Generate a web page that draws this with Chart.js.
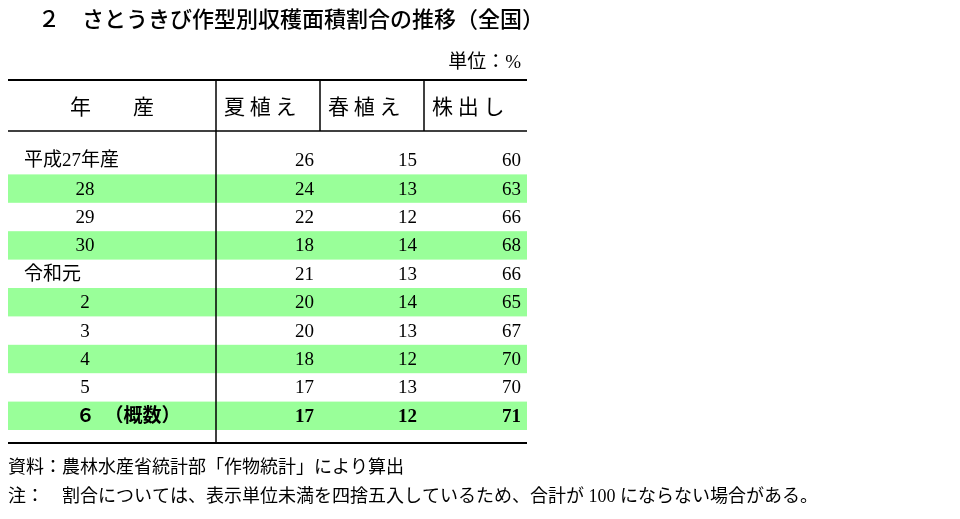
<!DOCTYPE html>
<html><head><meta charset="utf-8">
<script src="https://cdn.jsdelivr.net/npm/chart.js@4"></script>
<style>html,body{margin:0;padding:0;background:#fff}#w{width:960px;height:519px}</style>
</head><body><div id="w"><canvas id="c"></canvas></div>
<script>
const title = "２　さとうきび作型別収穫面積割合の推移（全国）";
const unit = "単位：%";
const headers = ["年　　産", "夏 植 え", "春 植 え", "株 出 し"];
const years = ["平成27年産", "28", "29", "30", "令和元", "2", "3", "4", "5", "６　（概数）"];
const summer = [26, 24, 22, 18, 21, 20, 20, 18, 17, 17];
const spring = [15, 13, 12, 14, 13, 14, 13, 12, 13, 12];
const ratoon = [60, 63, 66, 68, 66, 65, 67, 70, 70, 71];
const notes = ["資料：農林水産省統計部「作物統計」により算出",
  "注：　割合については、表示単位未満を四捨五入しているため、合計が 100 にならない場合がある。"];

const FONT = '"Liberation Serif","Noto Sans CJK JP",serif';
const tablePlugin = {
  id: 'table',
  afterDraw(chart) {
    const ctx = chart.ctx, X = chart.scales.x, Y = chart.scales.y;
    const px = v => X.getPixelForValue(v), py = v => Y.getPixelForValue(v);
    ctx.save();
    ctx.fillStyle = '#000'; ctx.textBaseline = 'middle';
    ctx.font = '500 22px "Noto Sans CJK JP"'; ctx.textAlign = 'left';
    ctx.fillText(title, px(38), py(19));
    ctx.font = '19px ' + FONT; ctx.textAlign = 'right';
    ctx.fillText(unit, px(521), py(63));
    const L = px(8), R = px(527), top = py(80), hb = py(131), bot = py(443);
    const rowH = 28.4, r0 = 146;
    ctx.fillStyle = '#99ff99';
    years.forEach((y, i) => { if (i % 2 === 1) ctx.fillRect(L, py(r0 + i * rowH), R - L, rowH); });
    ctx.strokeStyle = '#000';
    const line = (x1, y1, x2, y2, w) => { ctx.lineWidth = w; ctx.beginPath(); ctx.moveTo(x1, y1); ctx.lineTo(x2, y2); ctx.stroke(); };
    line(L, top, R, top, 2); line(L, hb, R, hb, 1.5); line(L, bot, R, bot, 2);
    line(px(216), top, px(216), bot, 1.5);
    line(px(320), top, px(320), hb, 1.5); line(px(424), top, px(424), hb, 1.5);
    ctx.fillStyle = '#000'; ctx.font = '21px "Noto Sans CJK JP"';
    ctx.textAlign = 'center'; ctx.fillText(headers[0], px(112), py(106));
    ctx.textAlign = 'left';
    ctx.fillText(headers[1], px(224), py(106)); ctx.fillText(headers[2], px(328), py(106)); ctx.fillText(headers[3], px(432), py(106));
    years.forEach((y, i) => {
      const cy = py(r0 + i * rowH + rowH / 2 + 1);
      const last = i === years.length - 1;
      ctx.font = (last ? 'bold ' : '') + '19px ' + FONT;
      if (i === 0 || y === "令和元") { ctx.textAlign = 'left'; ctx.fillText(y, px(24), cy); }
      else if (last) { ctx.textAlign = 'left'; ctx.fillText(y, px(76), cy); }
      else { ctx.textAlign = 'center'; ctx.fillText(y, px(85), cy); }
      ctx.textAlign = 'right';
      ctx.fillText(summer[i], px(314), cy); ctx.fillText(spring[i], px(417), cy); ctx.fillText(ratoon[i], px(521), cy);
    });
    ctx.textAlign = 'left'; ctx.font = '18px ' + FONT;
    ctx.fillText(notes[0], px(8), py(468)); ctx.fillText(notes[1], px(8), py(497));
    ctx.restore();
  }
};
new Chart(document.getElementById('c'), {
  type: 'scatter',
  data: { datasets: [] },
  options: {
    responsive: true, maintainAspectRatio: false, animation: false,
    layout: { padding: 0 },
    plugins: { legend: { display: false }, tooltip: { enabled: false } },
    scales: {
      x: { type: 'linear', min: 0, max: 960, display: false, offset: false },
      y: { type: 'linear', min: 0, max: 519, reverse: true, display: false, offset: false }
    }
  },
  plugins: [tablePlugin]
});
</script></body></html>
